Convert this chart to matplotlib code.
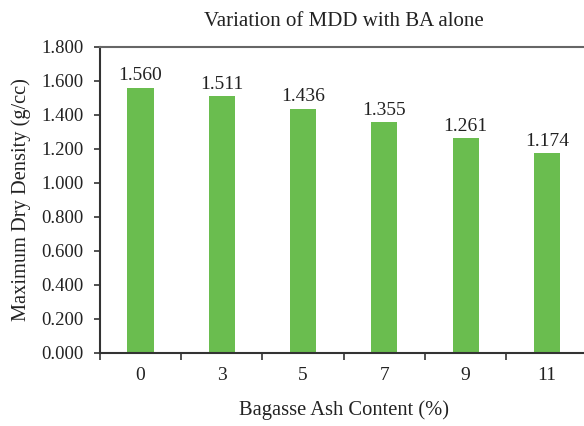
import matplotlib
matplotlib.use("Agg")
import matplotlib.pyplot as plt
import numpy as np

plt.rcParams['font.family'] = ['Liberation Serif', 'DejaVu Serif']

ba_content = ["0", "3", "5", "7", "9", "11"]
mdd = [1.560, 1.511, 1.436, 1.355, 1.261, 1.174]

fig = plt.figure(figsize=(5.84, 4.26), dpi=100)
ax = fig.add_axes([0.171, 0.172, 0.835, 0.718])

x = np.arange(len(ba_content))
bars = ax.bar(x, mdd, width=0.32, color='#6abd4f', zorder=2)
for xi, v in zip(x, mdd):
    ax.text(xi, v + 0.02, f"{v:.3f}", ha='center', va='bottom', fontsize=14, color='#222222')

ax.set_xlim(-0.5, len(ba_content) - 0.5)
ax.set_ylim(0, 1.8)
ax.set_yticks(np.arange(0, 1.81, 0.2))
ax.set_yticklabels([f"{t:.3f}" for t in np.arange(0, 1.81, 0.2)])
ax.set_xticks(x)
ax.set_xticklabels(ba_content)
ax.set_xticks(np.arange(-0.5, len(ba_content)), minor=True)
ax.tick_params(axis='x', which='major', length=0, pad=10, labelsize=14, labelcolor='#222222')
ax.tick_params(axis='x', which='minor', length=5, width=1.2, color='#333333')
ax.tick_params(axis='y', length=4, width=1.2, color='#333333', labelsize=13.5, labelcolor='#222222', pad=8)

for s in ['left', 'bottom']:
    ax.spines[s].set_color('#333333')
    ax.spines[s].set_linewidth(1.5)
ax.spines['top'].set_color('#666666')
ax.spines['top'].set_linewidth(1.5)
ax.spines['right'].set_visible(False)

ax.set_xlabel("Bagasse Ash Content (%)", fontsize=14.8, color='#222222', labelpad=12)
ax.set_ylabel("Maximum Dry Density (g/cc)", fontsize=14.7, color='#222222', labelpad=7)
ax.set_title("Variation of MDD with BA alone", fontsize=15, color='#222222', pad=15)

fig.savefig("out.png", dpi=100)
